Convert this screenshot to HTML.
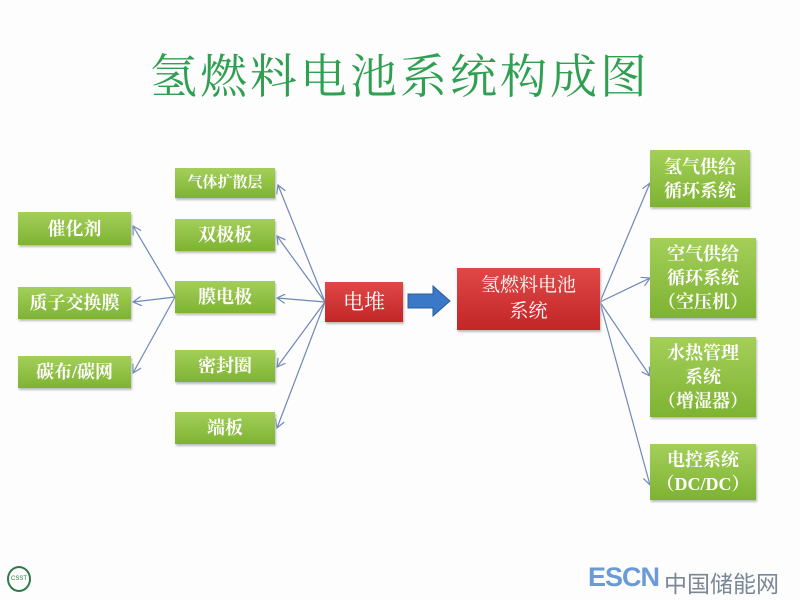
<!DOCTYPE html>
<html><head><meta charset="utf-8"><style>
body{margin:0;width:800px;height:600px;background:#fdfdfd;position:relative;overflow:hidden;font-family:"Liberation Sans","Noto Sans CJK SC",sans-serif}
.t{position:absolute;left:0;width:800px;top:40px;text-align:center;font-family:"Noto Serif CJK SC",serif;font-size:47px;color:#2f9f52;letter-spacing:3px}
.g{position:absolute;background:linear-gradient(#a4cf5a,#7eb332);color:#fff;display:flex;align-items:center;justify-content:center;text-align:center;font-size:18px;line-height:24px;font-family:"Liberation Serif","Noto Serif CJK SC",serif;font-weight:bold;box-shadow:1px 2px 2px #bbb}
.r{position:absolute;background:linear-gradient(#e04848,#c22626);color:#fff;display:flex;align-items:center;justify-content:center;text-align:center;font-size:21px;line-height:26px;font-family:"Liberation Serif","Noto Serif CJK SC",serif;box-shadow:1px 2px 2px #bbb}
</style></head><body>
<div class="t">氢燃料电池系统构成图</div>
<svg width="800" height="600" style="position:absolute;left:0;top:0">
<defs><marker id="a" markerWidth="8" markerHeight="8" refX="7" refY="4" orient="auto"><path d="M0,0L7,4L0,8" fill="none" stroke="#6d88b8" stroke-width="1"/></marker></defs>
<g stroke="#6d88b8" stroke-width="1.2" marker-end="url(#a)">
<line x1="325" y1="302" x2="278" y2="185"/>
<line x1="325" y1="302" x2="277" y2="236"/>
<line x1="325" y1="302" x2="277" y2="298"/>
<line x1="325" y1="302" x2="277" y2="367"/>
<line x1="325" y1="302" x2="277" y2="428"/>
<line x1="175" y1="297" x2="133" y2="226"/>
<line x1="175" y1="297" x2="133" y2="302"/>
<line x1="175" y1="297" x2="133" y2="373"/>
<line x1="600" y1="302" x2="650" y2="183"/>
<line x1="600" y1="302" x2="650" y2="278"/>
<line x1="600" y1="302" x2="650" y2="376"/>
<line x1="600" y1="302" x2="650" y2="485"/>
</g>
<path d="M408,294h25v-8l17,15l-17,15v-8h-25z" fill="#3a78c8" stroke="#2b5d9c"/>
</svg>
<div class="g" style="left:18px;top:212px;width:113px;height:33px">催化剂</div>
<div class="g" style="left:18px;top:287px;width:113px;height:32px">质子交换膜</div>
<div class="g" style="left:18px;top:356px;width:113px;height:32px">碳布/碳网</div>
<div class="g" style="left:175px;top:168px;width:100px;height:30px;font-size:15px">气体扩散层</div>
<div class="g" style="left:175px;top:219px;width:100px;height:32px">双极板</div>
<div class="g" style="left:175px;top:281px;width:100px;height:32px">膜电极</div>
<div class="g" style="left:175px;top:350px;width:100px;height:32px">密封圈</div>
<div class="g" style="left:175px;top:412px;width:100px;height:32px">端板</div>
<div class="r" style="left:325px;top:282px;width:78px;height:40px">电堆</div>
<div class="r" style="left:457px;top:268px;width:143px;height:62px;font-size:19px">氢燃料电池<br>系统</div>
<div class="g" style="left:650px;top:150px;width:100px;height:57px">氢气供给<br>循环系统</div>
<div class="g" style="left:650px;top:238px;width:106px;height:80px">空气供给<br>循环系统<br>（空压机）</div>
<div class="g" style="left:650px;top:337px;width:106px;height:80px">水热管理<br>系统<br>（增湿器）</div>
<div class="g" style="left:650px;top:444px;width:106px;height:56px">电控系统<br>（DC/DC）</div>
<div style="position:absolute;left:7px;top:566px;width:20px;height:22px;border-radius:50%;border:2px solid #2f7a4a;font-size:6px;color:#2f7a4a;display:flex;align-items:center;justify-content:center">CSST</div>
<div style="position:absolute;left:588px;top:562px;font-size:27px;font-weight:bold;color:#6a9bd8;letter-spacing:-1px">ESCN</div>
<div style="position:absolute;left:664px;top:565px;font-size:23px;color:#7a8796">中国储能网</div>
</body></html>
